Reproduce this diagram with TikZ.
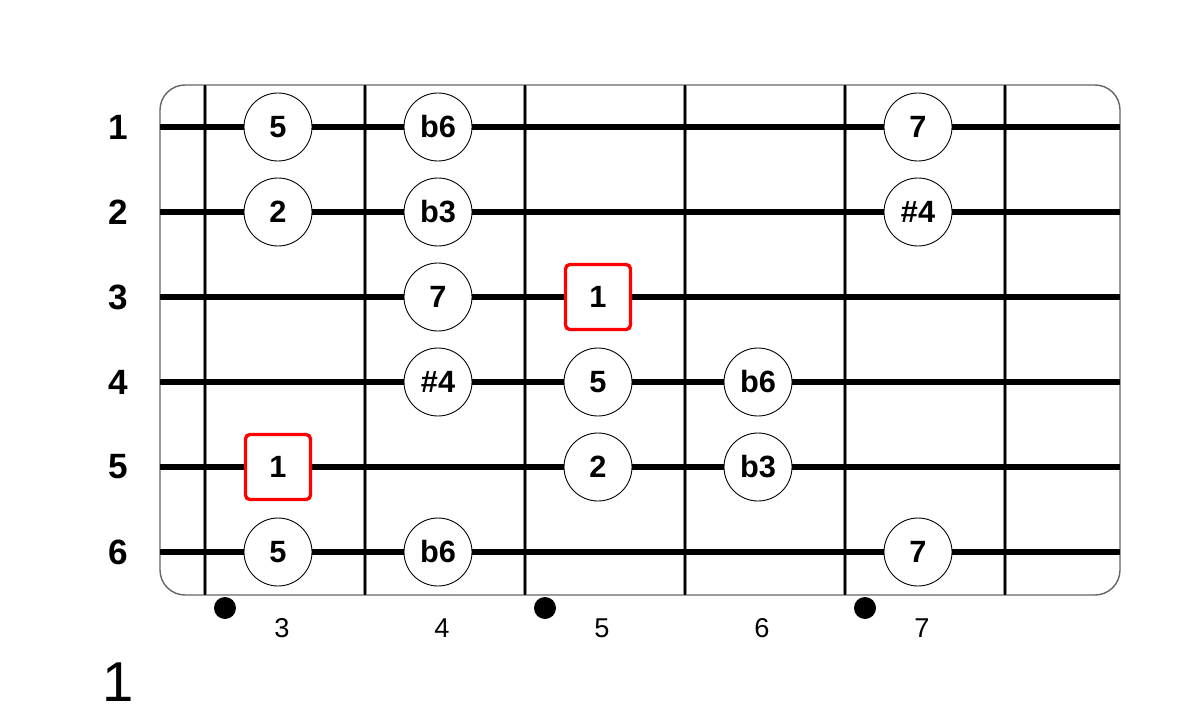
\documentclass[tikz,border=0pt]{standalone}
\usepackage{fontspec}
\setmainfont{Liberation Sans}

\begin{document}
\begin{tikzpicture}[x=0.02cm,y=-0.02cm,
    note/.style={shape=circle,draw=black,fill=white,line width=0.5pt,minimum size=1.36cm,inner sep=0pt,font=\fontsize{17.5}{17.5}\selectfont\bfseries},
    root/.style={shape=rectangle,draw=red,fill=white,line width=1.9pt,rounded corners=2.5pt,minimum size=1.3cm,inner sep=0pt,font=\fontsize{17.5}{17.5}\selectfont\bfseries},
    strnum/.style={font=\fontsize{20}{20}\selectfont\bfseries},
    fretnum/.style={font=\fontsize{15.5}{15.5}\selectfont},
    marker/.style={shape=circle,fill=black,minimum size=0.44cm,inner sep=0pt}]
  \useasboundingbox (0,0) rectangle (1200,723);

  % board
  \draw[black!60,line width=0.8pt,rounded corners=0.5cm] (160,85) rectangle (1120,595);
  \foreach \x in {205,365,525,685,845,1005}{
    \draw[black!45,line width=2.4pt] (\x,85) -- (\x,595);
    \draw[line width=1.4pt] (\x,85) -- (\x,595);
  }
  \foreach \n/\y in {1/127,2/212,3/297,4/382,5/467,6/552} {
    \draw[line width=3.5pt] (160,\y) -- (1120,\y);
    \node[strnum] (s\n) at (118,\y) {\n};
  }

  % notes
  \node[note] (n15) at (278,127) {5};
  \node[note] (n1b6) at (438,127) {b6};
  \node[note] (n17) at (918,127) {7};
  \node[note] (n22) at (278,212) {2};
  \node[note] (n2b3) at (438,212) {b3};
  \node[note] (n2s4) at (918,212) {\#4};
  \node[note] (n37) at (438,297) {7};
  \node[root] (r3) at (598,297) {1};
  \node[note] (n4s4) at (438,382) {\#4};
  \node[note] (n45) at (598,382) {5};
  \node[note] (n4b6) at (758,382) {b6};
  \node[root] (r5) at (278,467) {1};
  \node[note] (n52) at (598,467) {2};
  \node[note] (n5b3) at (758,467) {b3};
  \node[note] (n65) at (278,552) {5};
  \node[note] (n6b6) at (438,552) {b6};
  \node[note] (n67) at (918,552) {7};

  % fret markers and numbers
  \node[marker] (d3) at (225,608) {};
  \node[marker] (d5) at (545,608) {};
  \node[marker] (d7) at (865,608) {};
  \foreach \f/\x in {3/282,4/442,5/602,6/762,7/922}
    \node[fretnum] (f\f) at (\x,628) {\f};

  \node[font=\fontsize{32}{32}\selectfont] (pos) at (118,682) {1};
\end{tikzpicture}
\end{document}
